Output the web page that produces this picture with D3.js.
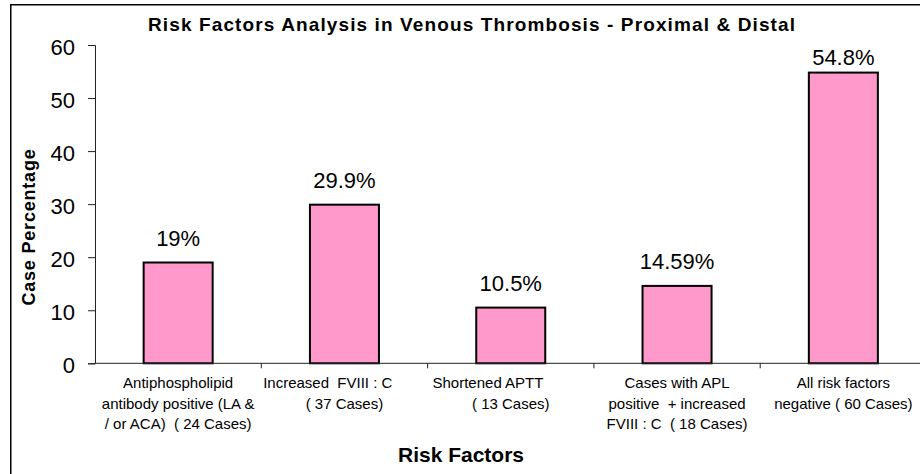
<!DOCTYPE html>
<html>
<head>
<meta charset="utf-8">
<script src="https://cdn.jsdelivr.net/npm/d3@7"></script>
<style>
  body { margin: 0; background: #fff; }
  svg text { font-family: "Liberation Sans", Arial, sans-serif; fill: #000; }
</style>
</head>
<body>
<div id="chart"></div>
<script>
const categories = ['apl', 'fviii', 'aptt', 'aplFviii', 'negative'];
const categoryLines = [
    ['Antiphospholipid', 'antibody positive (LA &', '/ or ACA)  ( 24 Cases)'],
    ['Increased  FVIII : C        ', '( 37 Cases)'],
    ['Shortened APTT           ', '( 13 Cases)'],
    ['Cases with APL', 'positive  + increased', 'FVIII : C  ( 18 Cases)'],
    ['All risk factors', 'negative ( 60 Cases)']
];
const values = [19, 29.9, 10.5, 14.59, 54.8];
const valueLabels = ['19%', '29.9%', '10.5%', '14.59%', '54.8%'];
const yTicks = [0, 10, 20, 30, 40, 50, 60];

const width = 920, height = 474;
const margin = { top: 45, right: -6, bottom: 111, left: 95 };

const svg = d3.select('#chart').append('svg')
    .attr('width', width)
    .attr('height', height);

// outer chart frame (right and bottom edges are cut off)
svg.append('rect')
    .attr('x', 10.75).attr('y', 4.75)
    .attr('width', 1000).attr('height', 1000)
    .attr('fill', 'none')
    .attr('stroke', '#000')
    .attr('stroke-width', 1.5);

const x = d3.scaleBand()
    .domain(categories)
    .range([margin.left, width - margin.right + 0.5]);

const y = d3.scaleLinear()
    .domain([0, 60])
    .range([height - margin.bottom + 0.3, margin.top]);

const barW = x.bandwidth() * 0.415;

// bars
svg.append('g').selectAll('rect')
    .data(values)
    .enter()
    .append('rect')
    .attr('x', (d, i) => x(categories[i]) + (x.bandwidth() - barW) / 2)
    .attr('y', d => y(d))
    .attr('width', barW)
    .attr('height', d => y(0) - y(d))
    .attr('fill', '#FF99CC')
    .attr('stroke', '#000')
    .attr('stroke-width', 2);

// value labels, kept inside the plot area
svg.append('g').selectAll('text')
    .data(values)
    .enter()
    .append('text')
    .attr('x', (d, i) => x(categories[i]) + x.bandwidth() / 2)
    .attr('y', d => Math.max(y(d) - 17, y(60) + 20))
    .attr('text-anchor', 'middle')
    .style('font-size', '22px')
    .text((d, i) => valueLabels[i]);

// y axis
const yAxis = svg.append('g')
    .attr('transform', `translate(${margin.left},0)`)
    .call(d3.axisLeft(y).tickValues(yTicks).tickSize(7).tickPadding(13).tickFormat(d3.format('d')));
yAxis.select('.domain').attr('stroke', '#222');
yAxis.selectAll('.tick line').attr('stroke', '#222');
yAxis.selectAll('.tick text')
    .attr('dy', '0.42em')
    .style('font-size', '22px')
    .style('font-family', '"Liberation Sans", Arial, sans-serif')
    .attr('fill', '#000');

// x axis
const xAxis = svg.append('g')
    .attr('transform', `translate(0,${y(0)})`);
xAxis.append('line')
    .attr('x1', margin.left).attr('x2', width)
    .attr('stroke', '#222');
xAxis.selectAll('line.tick')
    .data(categories.slice(1))
    .enter()
    .append('line')
    .attr('class', 'tick')
    .attr('x1', d => x(d)).attr('x2', d => x(d))
    .attr('y1', 0).attr('y2', 5)
    .attr('stroke', '#222');

// category labels
const catText = svg.append('g').selectAll('text')
    .data(categoryLines)
    .enter()
    .append('text')
    .attr('text-anchor', 'middle')
    .style('font-size', '15px')
    .style('white-space', 'pre')
    .attr('xml:space', 'preserve');
catText.selectAll('tspan')
    .data((d, i) => d.map(line => ({ line, i })))
    .enter()
    .append('tspan')
    .attr('x', d => x(categories[d.i]) + x.bandwidth() / 2)
    .attr('y', (d, j) => 388 + j * 20.5)
    .text(d => d.line);

// titles
svg.append('text')
    .attr('x', 471.5)
    .attr('y', 31)
    .attr('text-anchor', 'middle')
    .attr('textLength', 647)
    .attr('lengthAdjust', 'spacing')
    .style('font-size', '19px')
    .style('font-weight', 'bold')
    .text('Risk Factors Analysis in Venous Thrombosis - Proximal & Distal');

svg.append('text')
    .attr('x', 461)
    .attr('y', 462)
    .attr('text-anchor', 'middle')
    .style('font-size', '21px')
    .style('font-weight', 'bold')
    .text('Risk Factors');

svg.append('text')
    .attr('transform', 'translate(35,227) rotate(-90)')
    .attr('text-anchor', 'middle')
    .style('font-size', '18px')
    .style('font-weight', 'bold')
    .style('letter-spacing', '0.8px')
    .text('Case Percentage');
</script>
</body>
</html>
